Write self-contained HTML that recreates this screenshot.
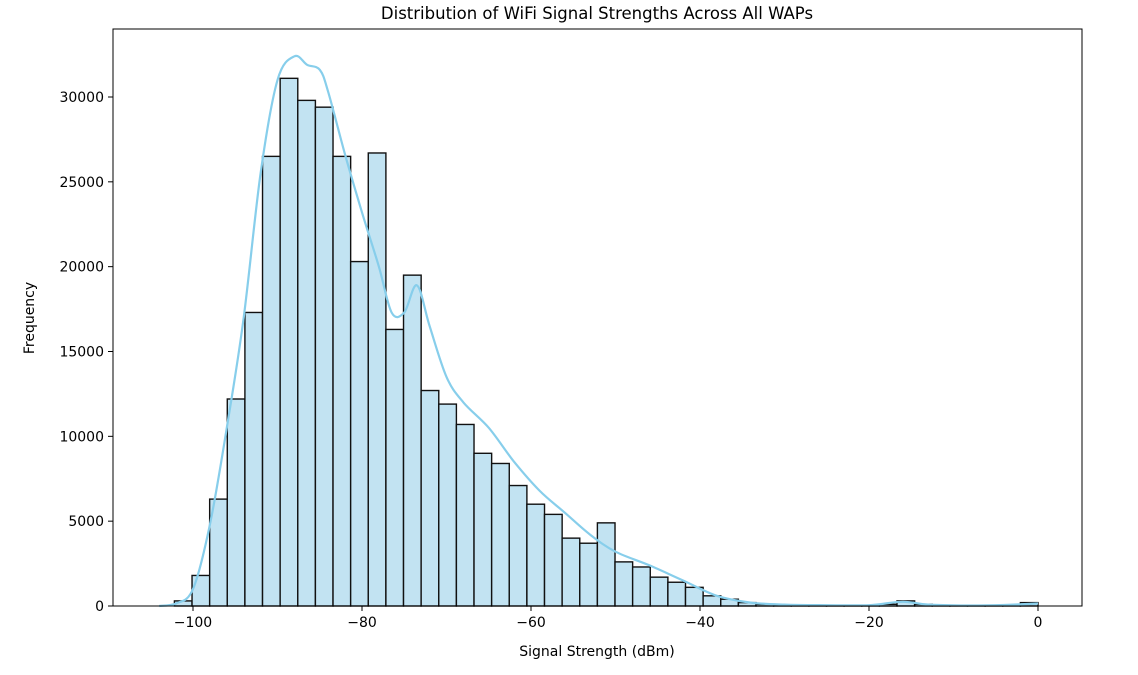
<!DOCTYPE html>
<html><head><meta charset="utf-8"><style>
body{margin:0;background:#fff;font-family:"Liberation Sans","DejaVu Sans",sans-serif}
svg text{font-family:"DejaVu Sans","Liberation Sans",sans-serif;fill:#000}
</style></head><body>
<svg id="chart" width="1138" height="670" xmlns="http://www.w3.org/2000/svg"></svg>
<script>
const binStart = -102.2;
const binWidth = 2.0857;
const counts = [300,1800,6300,12200,17300,26500,31100,29800,29400,26500,20300,26700,16300,19500,12700,11900,10700,9000,8400,7100,6000,5400,4000,3700,4900,2600,2300,1700,1400,1100,600,400,200,100,50,30,20,20,20,20,100,300,100,30,30,30,30,30,200];
const kdeX = [-104,-102,-100,-98,-96,-94,-92,-90,-88,-86.5,-85,-84,-82,-80,-78,-76.5,-75,-73.5,-72,-70,-68,-65,-62,-59,-56,-53,-50,-46,-42,-38,-34,-30,-25,-20,-16,-13,-8,-4,0];
const kdeY = [0,150,1000,4800,10500,17000,25500,31000,32400,31900,31600,30300,26600,23200,20000,17300,17300,18900,16500,13500,12000,10500,8500,6800,5500,4200,3200,2400,1500,600,200,80,50,50,250,80,30,60,150];
const xTicks = [-100,-80,-60,-40,-20,0];
const xTickLabels = ["\u2212100","\u221280","\u221260","\u221240","\u221220","0"];
const yTicks = [0,5000,10000,15000,20000,25000,30000];

const L=113,R=1082,T=29,B=606;
const xs=v=>1038+(v-0)*8.45;
const ys=v=>606-v*0.016967;
const svg=document.getElementById('chart');
const NS='http://www.w3.org/2000/svg';
function mk(t,a,p){const e=document.createElementNS(NS,t);for(const k in a)e.setAttribute(k,a[k]);(p||svg).appendChild(e);return e;}

const bars=mk('g',{});


counts.forEach((c,i)=>{
  const x0=xs(binStart+i*binWidth),x1=xs(binStart+(i+1)*binWidth);
  const r=mk('rect',{x:x0,y:ys(c),width:x1-x0,height:B-ys(c),fill:'#c2e3f2',stroke:'#111','stroke-width':1.4},bars);
  
  
});
const P=kdeX.map((v,i)=>[xs(v),ys(kdeY[i])]);
let d='M'+P[0][0].toFixed(1)+','+P[0][1].toFixed(1);
for(let i=0;i<P.length-1;i++){
  const p0=P[Math.max(0,i-1)],p1=P[i],p2=P[i+1],p3=P[Math.min(P.length-1,i+2)];
  const c1=[p1[0]+(p2[0]-p0[0])/6,p1[1]+(p2[1]-p0[1])/6];
  const c2=[p2[0]-(p3[0]-p1[0])/6,p2[1]-(p3[1]-p1[1])/6];
  d+='C'+c1[0].toFixed(1)+','+Math.min(B,c1[1]).toFixed(1)+' '+c2[0].toFixed(1)+','+Math.min(B,c2[1]).toFixed(1)+' '+p2[0].toFixed(1)+','+p2[1].toFixed(1);
}
const kde=mk('path',{d:d,fill:'none',stroke:'#87ceeb','stroke-width':2.2,'stroke-linejoin':'round'});



const frame=mk('rect',{x:L,y:T,width:R-L,height:B-T,fill:'none',stroke:'#000','stroke-width':1});



xTicks.forEach((v,i)=>{
  mk('line',{x1:xs(v),x2:xs(v),y1:B,y2:B+5,stroke:'#000'});
  const t=mk('text',{x:xs(v),y:B+21,'text-anchor':'middle','font-size':14});
  t.textContent=xTickLabels[i];
  
  
});
yTicks.forEach(v=>{
  mk('line',{x1:L-5,x2:L,y1:ys(v),y2:ys(v),stroke:'#000'});
  const t=mk('text',{x:L-9,y:ys(v)+5,'text-anchor':'end','font-size':14});
  t.textContent=v;
  
  
});
const title=mk('text',{x:597,y:19,'text-anchor':'middle','font-size':16.5});
title.textContent='Distribution of WiFi Signal Strengths Across All WAPs';


const xl=mk('text',{x:597,y:656,'text-anchor':'middle','font-size':14});
xl.textContent='Signal Strength (dBm)';


const yl=mk('text',{x:34,y:318,'text-anchor':'middle','font-size':14,transform:'rotate(-90 34 318)'});
yl.textContent='Frequency';


</script>
</body></html>
